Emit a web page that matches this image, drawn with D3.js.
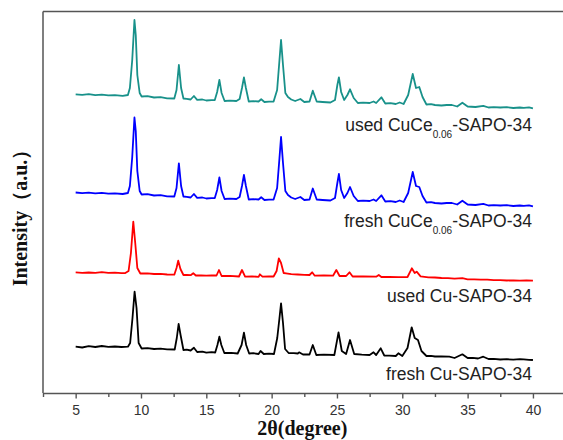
<!DOCTYPE html>
<html>
<head>
<meta charset="utf-8">
<script src="https://cdn.jsdelivr.net/npm/d3@7"></script>
<style>
  html, body { margin: 0; padding: 0; background: #fff; }
  svg { display: block; }
</style>
</head>
<body>
<svg id="chart" width="563" height="440"></svg>
<script>
// ---- Data (2θ in degrees, intensity in arbitrary units incl. vertical offset) ----
const xTicks = [5, 10, 15, 20, 25, 30, 35, 40];
const xMinorTicks = [2.5, 7.5, 12.5, 17.5, 22.5, 27.5, 32.5, 37.5];

const usedCuCe = [
  [5.0,298.7],[5.5,298.2],[6.0,298.9],[6.5,297.8],[7.0,298.4],[7.5,297.6],[8.0,297.9],[8.6,297.2],[9.0,298],
  [9.15,305],[9.33,333],[9.5,373],[9.6,358],[9.72,318],[9.9,300],[10.05,296.5],[10.5,296.8],[11.0,295.5],[11.5,295.9],
  [12.0,294.7],[12.55,294.5],[12.72,303],[12.9,328],[13.07,305],[13.25,294.5],[13.5,294.1],[13.8,293.5],[14.05,297],
  [14.3,293.2],[14.7,293.5],[15.0,292.5],[15.4,292.9],[15.65,293],[15.83,301],[16.0,313],[16.17,300],[16.4,292],
  [16.8,292.4],[17.3,292],[17.55,294],[17.73,305],[17.88,315.7],[18.03,305],[18.25,291.5],[18.6,291.9],[19.0,291.5],
  [19.2,293.7],[19.45,291],[19.8,291.4],[20.15,291.5],[20.42,303],[20.6,333],[20.72,353],[20.87,328],[21.05,300],
  [21.25,296],[21.5,293.5],[21.8,292],[22.2,294],[22.5,291],[22.9,291.5],[23.15,302.3],[23.45,291.5],[23.9,291],
  [24.5,290.5],[24.85,293],[25.03,308],[25.15,315.7],[25.32,301],[25.55,293],[25.8,298],[26.0,303.7],[26.28,295],
  [26.6,290],[27.0,290.4],[27.5,290],[27.8,291.5],[28.0,290],[28.4,295.7],[28.7,289.5],[29.1,289.8],[29.5,289],
  [29.8,290.5],[30.1,289],[30.45,298],[30.8,319],[31.05,305],[31.3,306],[31.55,296],[31.85,288.5],[32.2,288.9],
  [32.5,288],[33.0,287.5],[33.4,288],[33.8,288],[34.2,286.5],[34.6,290.3],[35.0,286.5],[35.6,286],[36.2,287.2],
  [36.6,285.5],[37.0,285.9],[37.5,285.5],[38.0,285.8],[38.5,285],[39.0,285.5],[39.3,285.2],[39.7,285.6],[40.0,284.7]
];

const freshCuCe = [
  [5.0,200.5],[5.5,199.9],[6.0,200.3],[6.5,199.6],[7.0,200.2],[7.5,199.4],[8.0,199.7],[8.6,199],[9.0,200],
  [9.15,207],[9.33,236],[9.5,275.5],[9.6,262],[9.72,222],[9.9,202],[10.05,198.5],[10.5,198.8],[11.0,197.5],[11.5,197.9],
  [12.0,196.7],[12.55,196.5],[12.72,205],[12.9,229.7],[13.07,207],[13.25,196.5],[13.5,196.1],[13.8,195.5],[14.05,199],
  [14.3,195.2],[14.7,195.5],[15.0,194.5],[15.4,194.9],[15.65,195],[15.83,203],[16.0,215.5],[16.17,202],[16.4,194],
  [16.8,194.4],[17.3,194],[17.55,196],[17.73,207],[17.88,218],[18.03,207],[18.25,193.5],[18.6,193.9],[19.0,193.5],
  [19.2,195.7],[19.45,193],[19.8,193.4],[20.15,193.5],[20.42,205],[20.6,235],[20.72,256],[20.87,230],[21.05,202],
  [21.25,198],[21.5,195.5],[21.8,194],[22.2,196],[22.5,193],[22.9,193.5],[23.15,204.5],[23.45,193.5],[23.9,193],
  [24.5,192.5],[24.85,195],[25.03,210],[25.15,219],[25.32,203],[25.55,195],[25.8,200],[26.0,206],[26.28,197],
  [26.6,192],[27.0,192.4],[27.5,192],[27.8,193.5],[28.0,192],[28.4,197.7],[28.7,191.5],[29.1,191.8],[29.5,191],
  [29.8,192.5],[30.1,191],[30.45,200],[30.8,221],[31.05,207],[31.3,206],[31.55,197],[31.85,190.5],[32.2,190.9],
  [32.5,190],[33.0,189.5],[33.4,190],[33.8,190],[34.2,188.5],[34.6,192.3],[35.0,188.5],[35.6,188],[36.2,189.2],
  [36.6,187.5],[37.0,187.9],[37.5,187.5],[38.0,187.8],[38.5,187],[39.0,187.5],[39.3,187.2],[39.7,187.6],[40.0,186.7]
];

const usedCu = [
  [5.0,120.7],[5.5,120.2],[6.0,120.5],[6.5,120.1],[7.0,120.8],[7.5,120.2],[8.0,120.3],[8.5,119.9],[8.8,120],
  [9.05,122],[9.23,140],[9.41,171.3],[9.56,150],[9.72,125],[9.95,119.5],[10.5,119.6],[11.0,119],[11.5,119.2],
  [12.0,118.5],[12.55,118.3],[12.72,125],[12.85,132.3],[13.02,124],[13.25,118],[13.5,118.2],[13.8,117.8],[14.0,119.7],
  [14.2,117.5],[14.6,117.7],[15.0,117.3],[15.4,117.6],[15.78,117.5],[15.97,123],[16.17,117],[16.8,117.2],[17.5,116.5],
  [17.73,123],[17.97,116.3],[18.5,116.6],[19.0,116.2],[19.1,118.7],[19.3,116.3],[19.8,116.6],[20.15,116.5],
  [20.38,122],[20.55,134.7],[20.72,130],[20.92,120],[21.1,119.7],[21.5,118.8],[22.0,118.5],[22.5,118.2],[22.9,118],
  [23.1,120.7],[23.3,117.3],[24.0,117.5],[24.7,117.3],[24.95,123],[25.2,117],[25.7,117],[25.96,120.7],[26.2,116.5],
  [27.0,116.6],[28.0,116.3],[28.2,118],[28.4,116],[29.0,116.2],[29.7,115.8],[30.4,116],[30.73,124.7],[30.95,120],
  [31.1,121.3],[31.4,116.7],[32.0,115.7],[32.5,115.5],[33.0,115],[33.5,114.9],[34.0,114.3],[34.6,114.8],
  [35.0,113.7],[35.5,113.6],[36.0,113.3],[36.5,113.4],[37.0,112.8],[37.5,112.9],[38.0,112.5],[38.5,112.6],
  [39.0,112.3],[39.5,112.5],[40.0,112.3]
];

const freshCu = [
  [5.0,46.3],[5.5,45.5],[6.0,46.8],[6.5,46],[7.0,47],[7.5,46.2],[8.0,46.5],[8.5,46],[9.0,46.3],
  [9.17,50],[9.35,75],[9.51,101.3],[9.66,85],[9.82,50],[10.05,44.5],[10.5,44.9],[11.0,44],[11.5,44.3],[12.0,43.7],
  [12.58,43.5],[12.74,55],[12.88,69],[13.03,58],[13.25,43],[13.5,43.3],[13.8,42.5],[14.05,45.3],[14.3,41],[14.7,41.3],
  [15.0,40.3],[15.4,40.8],[15.68,40.5],[15.85,48],[16.0,56.3],[16.15,48],[16.38,40],[16.9,40.2],[17.4,39.5],
  [17.7,48],[17.88,60.3],[18.05,48],[18.28,39.5],[18.6,39.8],[19.0,39],[19.15,42],[19.4,39],[19.8,39.4],[20.18,39],
  [20.43,55],[20.6,75],[20.72,89.7],[20.87,70],[21.03,44],[21.3,40],[21.7,39.8],[22.0,39.5],[22.1,40.7],[22.4,38.5],
  [22.9,38.5],[23.15,48],[23.42,38],[24.0,38.3],[24.8,38],[25.12,60.7],[25.37,42],[25.7,39],[26.0,53],[26.32,39],
  [26.9,38.3],[27.5,38],[27.8,40.7],[28.0,38],[28.35,44.7],[28.62,37.5],[29.0,37.4],[29.5,37],[29.7,39.7],[30.0,37],
  [30.4,45],[30.72,65.7],[30.95,55],[31.2,53],[31.47,42],[31.85,37],[32.2,37.2],[32.5,36.5],[33.0,36.5],[33.6,36.3],
  [34.0,35],[34.6,38.7],[35.0,35],[35.4,35.2],[35.8,34.5],[36.2,36.3],[36.6,34],[37.0,34.2],[37.5,33.5],
  [38.0,33.8],[38.5,33.3],[39.0,33.9],[39.3,33.7],[39.7,33.2],[40.0,33]
];

const seriesNames = ["used CuCe-SAPO-34", "fresh CuCe-SAPO-34", "used Cu-SAPO-34", "fresh Cu-SAPO-34"];
const seriesData = [usedCuCe, freshCuCe, usedCu, freshCu];
const seriesColors = ["#18918a", "#0000ff", "#ff0000", "#000000"];
// label parts: [prefix, subscript, suffix]
const labelParts = [
  ["used CuCe", "0.06", "-SAPO-34"],
  ["fresh CuCe", "0.06", "-SAPO-34"],
  ["used Cu-SAPO-34", "", ""],
  ["fresh Cu-SAPO-34", "", ""]
];
const labelBaselines = [131, 227, 302, 380]; // pixel baselines

// ---- Layout ----
const svg = d3.select("#chart");
const plot = { left: 43, top: 11.5, bottom: 393, right: 565.6 };

const x = d3.scaleLinear().domain([2.5, 42.5]).range([plot.left, plot.right]);
const y = d3.scaleLinear().domain([0, 381.5]).range([plot.bottom, plot.top]);

// Traces
const line = d3.line().x(d => x(d[0])).y(d => y(d[1]));
svg.append("g").selectAll("path")
  .data(seriesData)
  .join("path")
  .attr("d", d => line(d))
  .attr("fill", "none")
  .attr("stroke", (d, i) => seriesColors[i])
  .attr("stroke-width", 1.8)
  .attr("stroke-linejoin", "round");

// Frame (top and left borders; right border is outside the picture)
const frameColor = "#555";
svg.append("line").attr("x1", plot.left).attr("x2", plot.right).attr("y1", plot.top).attr("y2", plot.top)
  .attr("stroke", frameColor).attr("stroke-width", 1.5);
svg.append("line").attr("x1", plot.left).attr("x2", plot.left).attr("y1", plot.top).attr("y2", plot.bottom)
  .attr("stroke", frameColor).attr("stroke-width", 1.5);
svg.append("line").attr("x1", plot.right).attr("x2", plot.right).attr("y1", plot.top).attr("y2", plot.bottom)
  .attr("stroke", frameColor).attr("stroke-width", 1.5);

// X axis
const xAxis = d3.axisBottom(x).tickValues(xTicks).tickSize(5.5).tickSizeOuter(0).tickPadding(7);
const gx = svg.append("g").attr("transform", `translate(0,${plot.bottom})`).call(xAxis);
gx.select(".domain").attr("stroke", frameColor).attr("stroke-width", 1.5);
gx.selectAll(".tick line").attr("stroke", frameColor).attr("stroke-width", 1.4);
gx.selectAll(".tick text")
  .attr("font-family", "Liberation Sans, Arial, sans-serif")
  .attr("font-size", 14).attr("fill", "#333");

const xMinor = d3.axisBottom(x).tickValues(xMinorTicks).tickSize(4).tickSizeOuter(0).tickFormat("");
const gxm = svg.append("g").attr("transform", `translate(0,${plot.bottom})`).call(xMinor);
gxm.select(".domain").remove();
gxm.selectAll(".tick line").attr("stroke", frameColor).attr("stroke-width", 1.4);

// Axis titles
svg.append("text")
  .attr("x", (x(20) + x(25)) / 2 - 2).attr("y", 435)
  .attr("text-anchor", "middle")
  .attr("font-family", "Liberation Serif, Times New Roman, serif")
  .attr("font-weight", "bold").attr("font-size", 20).attr("fill", "#111")
  .text("2θ(degree)");

svg.append("text")
  .attr("transform", `translate(27,${213}) rotate(-90)`)
  .attr("text-anchor", "middle")
  .attr("font-family", "Liberation Serif, Times New Roman, serif")
  .attr("font-weight", "bold").attr("font-size", 20).attr("fill", "#111")
  .text("Intensity（a.u.）");

// Series labels
labelParts.forEach((p, i) => {
  const t = svg.append("text")
    .attr("x", x(40) - 1).attr("y", labelBaselines[i])
    .attr("text-anchor", "end")
    .attr("font-family", "Liberation Sans, Arial, sans-serif")
    .attr("font-size", 17.5).attr("fill", "#222");
  t.append("tspan").text(p[0]);
  if (p[1]) {
    t.append("tspan").attr("font-size", 10).attr("dy", 6.5).text(p[1]);
    t.append("tspan").attr("dy", -6.5).text(p[2]);
  }
});
</script>
</body>
</html>
